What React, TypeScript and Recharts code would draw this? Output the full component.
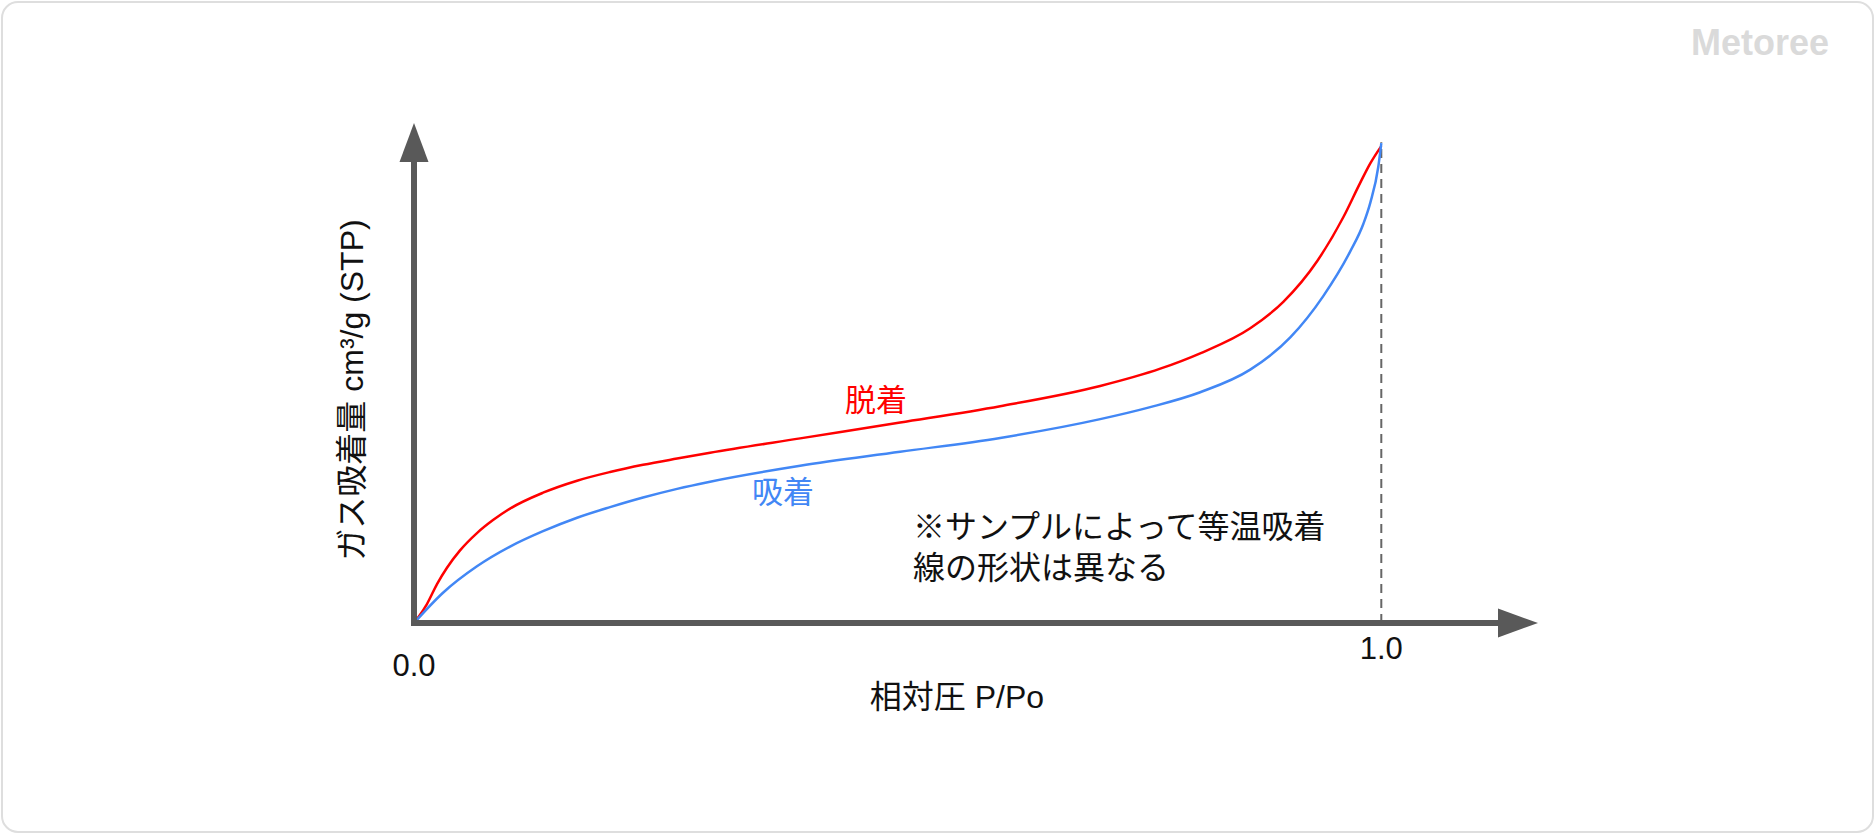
import {
  LineChart,
  Line,
  XAxis,
  YAxis,
  ReferenceLine,
  ReferenceDot,
} from "recharts";

// relative pressure P/Po and adsorbed amount (arbitrary units, 100 = saturation)
const desorptionP = [0, 0.003, 0.0134, 0.0238, 0.0341, 0.0476, 0.0651, 0.0817, 0.0993, 0.1334, 0.1686, 0.2027, 0.2368, 0.272, 0.3061, 0.3992, 0.5026, 0.606, 0.7094, 0.7715, 0.8128, 0.8645, 0.8987, 0.9338, 0.9607, 0.9783, 0.9886, 1.0];
const desorptionV = [0, 0.8, 3.95, 8.1, 11.5, 15.1, 18.7, 21.4, 23.8, 27.1, 29.6, 31.4, 32.9, 34.2, 35.4, 38.4, 41.7, 45.1, 49.3, 52.9, 56.1, 61.3, 66.8, 75.3, 84.4, 91.6, 95.6, 99.2];

const adsorptionP = [0, 0.030, 0.0651, 0.0993, 0.1334, 0.1686, 0.2027, 0.2368, 0.272, 0.3061, 0.3992, 0.5026, 0.606, 0.7094, 0.7611, 0.8128, 0.8645, 0.9059, 0.94, 0.9679, 0.9814, 0.9886, 0.9969, 1.0];
const adsorptionV = [0, 6.3, 11.8, 15.9, 19.1, 21.9, 24.1, 26.1, 27.9, 29.4, 32.7, 35.6, 38.5, 42.4, 44.9, 48.0, 52.7, 59.4, 68.0, 77.3, 83.0, 87.4, 94.9, 99.8];

const xTicks = [0, 1];
const xTickLabels = ["0.0", "1.0"];

const xMax = 1.162; // tip of the x arrow
const xArrowBase = 1.121;
const yMax = 104; // tip of the y arrow
const yArrowBase = 95.9;

const desorption = desorptionP.map((p, i) => ({ p, v: desorptionV[i] }));
const adsorption = adsorptionP.map((p, i) => ({ p, v: adsorptionV[i] }));

const FONT = "'Liberation Sans', Arial, 'Noto Sans CJK JP', sans-serif";
const AXIS = "#595959";

const UpArrow = (props: any) => {
  const { cx, cy } = props;
  return <polygon points={`${cx},${cy} ${cx - 14.5},${cy + 39} ${cx + 14.5},${cy + 39}`} fill={AXIS} />;
};

const RightArrow = (props: any) => {
  const { cx, cy } = props;
  return <polygon points={`${cx},${cy} ${cx - 40},${cy - 14.5} ${cx - 40},${cy + 14.5}`} fill={AXIS} />;
};

const Tick = (props: any) => {
  const { x, y, payload, index } = props;
  const dy = index === 0 ? 42 : 25;
  return (
    <text x={x} y={y + dy} textAnchor="middle" dominantBaseline="central" fontSize={31} fill="#111" fontFamily={FONT}>
      {xTickLabels[xTicks.indexOf(payload.value)]}
    </text>
  );
};

export default function App() {
  return (
    <div style={{ position: "absolute", left: 0, top: 0, width: 1875, height: 834, background: "#fff" }}>
      <LineChart width={1875} height={834} margin={{ top: 123, right: 337, bottom: 171, left: 414 }}>
        <XAxis
          type="number"
          dataKey="p"
          domain={[0, xMax]}
          ticks={xTicks}
          height={40}
          axisLine={false}
          tickLine={false}
          tickSize={0}
          tickMargin={0}
          tick={<Tick />}
          allowDataOverflow
        />
        <YAxis type="number" dataKey="v" domain={[0, yMax]} hide allowDataOverflow />
        <ReferenceLine
          segment={[{ x: 1, y: 0 }, { x: 1, y: 100 }]}
          stroke="#666"
          strokeWidth={2}
          strokeDasharray="9 6"
          ifOverflow="visible"
        />
        <Line data={desorption} dataKey="v" type="monotone" stroke="#ff0000" strokeWidth={2.5} dot={false} isAnimationActive={false} />
        <Line data={adsorption} dataKey="v" type="monotone" stroke="#4287f5" strokeWidth={2.5} dot={false} isAnimationActive={false} />
        <ReferenceLine
          segment={[{ x: 0, y: 0 }, { x: xArrowBase, y: 0 }]}
          stroke={AXIS}
          strokeWidth={6}
          ifOverflow="visible"
        />
        <ReferenceLine
          segment={[{ x: 0, y: 0 }, { x: 0, y: yArrowBase }]}
          stroke={AXIS}
          strokeWidth={6}
          strokeLinecap="square"
          ifOverflow="visible"
        />
        <ReferenceDot x={0} y={yMax} shape={<UpArrow />} ifOverflow="visible" />
        <ReferenceDot x={xMax} y={0} shape={<RightArrow />} ifOverflow="visible" />
      </LineChart>
      <svg width={1875} height={834} style={{ position: "absolute", left: 0, top: 0, pointerEvents: "none" }} fontFamily={FONT}>
        <rect x={2} y={2} width={1871} height={830} rx={16} fill="none" stroke="#dedede" strokeWidth={2} />
        <text x={1760} y={42} textAnchor="middle" dominantBaseline="central" fontSize={36} fontWeight="bold" fill="#dadada">
          Metoree
        </text>
        <text
          x={352}
          y={390}
          transform="rotate(-90 352 390)"
          textAnchor="middle"
          dominantBaseline="central"
          fontSize={32}
          fill="#111"
        >
          ガス吸着量 cm³/g (STP)
        </text>
        <text x={957} y={697} textAnchor="middle" dominantBaseline="central" fontSize={32} fill="#111">
          相対圧 P/Po
        </text>
        <text x={876} y={400} textAnchor="middle" dominantBaseline="central" fontSize={31} fill="#ff0000">
          脱着
        </text>
        <text x={783} y={492} textAnchor="middle" dominantBaseline="central" fontSize={31} fill="#4287f5">
          吸着
        </text>
        <text x={913} y={527} dominantBaseline="central" fontSize={32} fill="#111">
          ※サンプルによって等温吸着
        </text>
        <text x={913} y={568} dominantBaseline="central" fontSize={32} fill="#111">
          線の形状は異なる
        </text>
      </svg>
    </div>
  );
}
